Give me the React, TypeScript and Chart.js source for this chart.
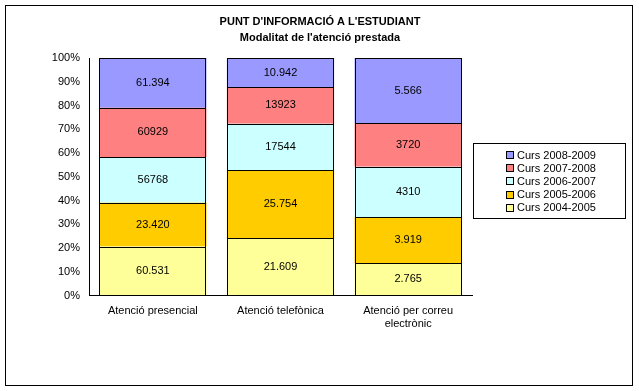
import React, { useEffect, useRef } from 'react';
import { Chart, registerables } from 'chart.js';

Chart.register(...registerables);

const titleLines = ["PUNT D'INFORMACIÓ A L'ESTUDIANT", "Modalitat de l'atenció prestada"];
const categories: (string | string[])[] = ['Atenció presencial', 'Atenció telefònica', ['Atenció per correu', 'electrònic']];

// series values (bar sizes) and the value labels printed on them
const curs0405 = [60531, 21609, 2765];
const curs0506 = [54000, 25754, 3919];
const curs0607 = [56768, 17544, 4310];
const curs0708 = [60929, 13923, 3720];
const curs0809 = [61394, 10942, 5566];

const labels0405 = ['60.531', '21.609', '2.765'];
const labels0506 = ['23.420', '25.754', '3.919'];
const labels0607 = ['56768', '17544', '4310'];
const labels0708 = ['60929', '13923', '3720'];
const labels0809 = ['61.394', '10.942', '5.566'];

const seriesNames = ['Curs 2004-2005', 'Curs 2005-2006', 'Curs 2006-2007', 'Curs 2007-2008', 'Curs 2008-2009'];
const seriesColors = ['#FFFF99', '#FFCC00', '#CCFFFF', '#FF8080', '#9999FF'];

const yTicks = [0, 10, 20, 30, 40, 50, 60, 70, 80, 90, 100];

const FONT = "'Liberation Sans', Arial, sans-serif";

export default function App() {
  const ref = useRef<HTMLCanvasElement | null>(null);

  useEffect(() => {
    const canvas = ref.current;
    if (!canvas) return;
    const series = [curs0405, curs0506, curs0607, curs0708, curs0809];
    const seriesLabels = [labels0405, labels0506, labels0607, labels0708, labels0809];
    const totals = categories.map((_, i) => series.reduce((s, arr) => s + arr[i], 0));

    const datasets = series.map((arr, k) => ({
      label: seriesNames[k],
      data: arr.map((v, i) => (v / totals[i]) * 100),
      backgroundColor: seriesColors[k],
      borderColor: '#000000',
      borderWidth: 0,
      categoryPercentage: 1,
      barPercentage: 0.84,
    }));

    const decor = {
      id: 'decor',
      afterDatasetsDraw(chart: any) {
        const ctx = chart.ctx;
        ctx.save();
        // crisp 1px outlines for each bar segment
        ctx.strokeStyle = '#000';
        ctx.lineWidth = 1;
        chart.data.datasets.forEach((_: any, di: number) => {
          const meta = chart.getDatasetMeta(di);
          meta.data.forEach((el: any) => {
            const left = Math.round(el.x - el.width / 2);
            const right = Math.round(el.x + el.width / 2);
            const top = Math.round(el.y);
            const bottom = Math.round(el.base);
            ctx.strokeRect(left + 0.5, top + 0.5, right - left - 1, bottom - top);
          });
        });
        ctx.font = `11px ${FONT}`;
        ctx.fillStyle = '#000';
        ctx.textAlign = 'center';
        ctx.textBaseline = 'middle';
        chart.data.datasets.forEach((_: any, di: number) => {
          const meta = chart.getDatasetMeta(di);
          meta.data.forEach((el: any, i: number) => {
            const cy = (el.y + el.base) / 2;
            ctx.fillText(seriesLabels[di][i], el.x, cy);
          });
        });
        ctx.restore();
      },
      afterDraw(chart: any) {
        const ctx = chart.ctx;
        ctx.save();
        // outer frame
        ctx.strokeStyle = '#000';
        ctx.lineWidth = 1;
        ctx.strokeRect(5.5, 5.5, 627, 380);
        // title
        ctx.fillStyle = '#000';
        ctx.font = `bold 11px ${FONT}`;
        ctx.textAlign = 'center';
        ctx.textBaseline = 'middle';
        ctx.fillText(titleLines[0], 320, 22);
        ctx.fillText(titleLines[1], 320, 38);
        // legend
        const lx = 473.5, ly = 143.5, lw = 152, lh = 75;
        ctx.strokeRect(lx, ly, lw, lh);
        ctx.font = `11px ${FONT}`;
        ctx.textAlign = 'left';
        const order = [4, 3, 2, 1, 0];
        order.forEach((k, r) => {
          const cy = 155 + r * 13.2;
          ctx.fillStyle = seriesColors[k];
          ctx.fillRect(507, Math.round(cy) - 3, 6, 6);
          ctx.strokeStyle = '#000';
          ctx.strokeRect(506.5, Math.round(cy) - 3.5, 7, 7);
          ctx.fillStyle = '#000';
          ctx.fillText(seriesNames[k], 517, cy + 0.5);
        });
        ctx.restore();
      },
    };

    const chart = new Chart(canvas, {
      type: 'bar',
      data: { labels: categories as any, datasets },
      options: {
        responsive: false,
        animation: false,
        devicePixelRatio: 1,
        layout: { padding: { left: 29, right: 167, top: 58, bottom: 0 } },
        plugins: {
          legend: { display: false },
          title: { display: false },
          tooltip: { enabled: false },
        },
        scales: {
          x: {
            stacked: true,
            grid: { color: 'rgba(0,0,0,0)', drawTicks: false },
            border: { display: true, color: '#000', width: 1 },
            ticks: { color: '#000', font: { family: FONT, size: 11 }, padding: 9, maxRotation: 0, autoSkip: false },
            afterFit: (s: any) => { s.height = 95.5; },
          },
          y: {
            stacked: true,
            min: 0,
            max: 100,
            grid: { color: 'rgba(0,0,0,0)', drawTicks: false },
            border: { display: true, color: '#000', width: 1 },
            afterBuildTicks: (s: any) => { s.ticks = yTicks.map((v) => ({ value: v })); },
            ticks: {
              color: '#000',
              font: { family: FONT, size: 11 },
              padding: 9,
              callback: (v: any) => `${v}%`,
            },
            afterFit: (s: any) => { s.width = 60; },
          },
        },
      },
      plugins: [decor],
    });
    return () => chart.destroy();
  }, []);

  return (
    <div style={{ position: 'fixed', left: 0, top: 0, width: 639, height: 391, background: '#fff' }}>
      <canvas ref={ref} width={639} height={391} style={{ display: 'block', width: 639, height: 391 }} />
    </div>
  );
}
